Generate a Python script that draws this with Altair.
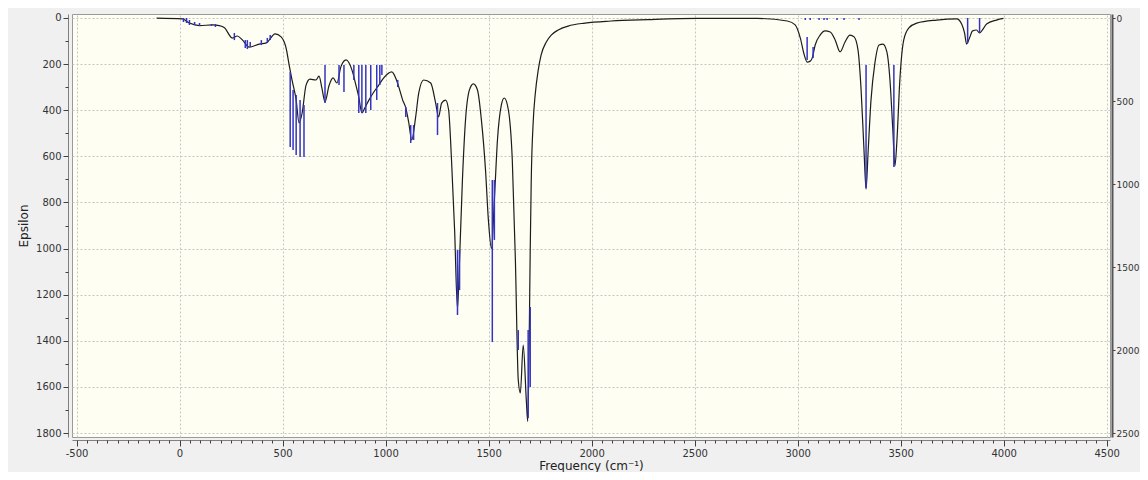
import altair as alt
import pandas as pd

# ---- spectrum curve (Epsilon vs frequency) ----
curve_freq = [-111, 14, 48, 97, 160, 193, 218, 256, 280, 305, 338, 387, 421, 464, 493, 517,
              532, 546, 566, 580, 595, 614, 633, 662, 677, 691, 706, 725, 745, 764, 783, 808,
              837, 856, 870, 885, 899, 919, 943, 967, 991, 1030, 1049, 1064, 1083, 1098, 1112, 1127,
              1146, 1161, 1185, 1219, 1243, 1257, 1272, 1291, 1306, 1320, 1335, 1349, 1359, 1373, 1388, 1407,
              1426, 1446, 1465, 1485, 1499, 1514, 1528, 1543, 1562, 1576, 1596, 1615, 1630, 1644, 1654, 1668,
              1683, 1690, 1697, 1702, 1707, 1717, 1726, 1741, 1755, 1780, 1804, 1838, 1886, 1968, 2094, 2273,
              2515, 2805, 2950, 2988, 3013, 3032, 3046, 3061, 3071, 3085, 3109, 3133, 3158, 3182, 3206, 3230,
              3254, 3274, 3293, 3308, 3322, 3332, 3342, 3356, 3375, 3395, 3414, 3433, 3448, 3462, 3472, 3482,
              3496, 3515, 3540, 3578, 3675, 3772, 3796, 3810, 3820, 3834, 3849, 3868, 3883, 3897, 3917, 3965, 3999]
curve_eps = [1, 4, 22, 33, 30, 33, 42, 87, 78, 95, 126, 113, 108, 69, 82, 130,
             204, 269, 356, 455, 412, 291, 265, 269, 252, 304, 364, 295, 260, 282, 212, 182,
             226, 291, 343, 412, 390, 356, 321, 291, 260, 234, 260, 299, 356, 390, 451, 529,
             429, 325, 269, 282, 369, 429, 369, 356, 399, 616, 919, 1260, 1049, 702, 442, 312,
             286, 312, 442, 659, 876, 1000, 789, 529, 377, 347, 399, 616, 1049, 1570, 1626, 1418,
             1657, 1750, 1396, 1006, 702, 442, 334, 225, 160, 104, 74, 52, 35, 22, 13, 7,
             2, 2, 13, 30, 87, 160, 191, 187, 173, 117, 74, 56, 61, 95, 147, 104,
             74, 82, 139, 312, 572, 742, 580, 356, 195, 117, 113, 147, 269, 486, 642, 529,
             269, 95, 43, 22, 9, 4, 26, 65, 113, 87, 56, 52, 65, 52, 26, 9, 2]

# ---- stick spectrum (intensity, right axis): visible segment top/bottom ----
stick_freq = [19, 34, 48, 73, 97, 155, 174, 266, 319, 329, 343, 397, 426, 440,
              537, 551, 566, 585, 604,
              706, 774, 798, 846, 870, 885, 904, 928, 957, 972, 982,
              1059, 1098, 1122, 1136, 1252,
              1349, 1359, 1518, 1528, 1644, 1692, 1702,
              3037, 3061, 3104, 3128, 3143, 3191, 3225, 3298,
              3046, 3075, 3332, 3467, 3825, 3883]
stick_top = [0, 0, 12, 24, 30, 36, 36, 90, 133, 133, 145, 133, 120, 102,
             325, 434, 464, 494, 524,
             283, 283, 283, 283, 283, 283, 283, 283, 283, 283, 283,
             373, 536, 645, 645, 512,
             1398, 1398, 976, 976, 1880, 1880, 1741,
             0, 0, 0, 0, 0, 0, 0, 0,
             114, 175, 283, 283, 0, 0]
stick_bot = [24, 30, 42, 42, 48, 48, 54, 133, 181, 187, 175, 163, 151, 133,
             777, 795, 825, 837, 837,
             512, 404, 446, 374, 572, 572, 572, 554, 494, 404, 343,
             416, 596, 753, 735, 705,
             1789, 1639, 1952, 1337, 2000, 2410, 2223,
             12, 12, 12, 12, 12, 12, 12, 12,
             253, 241, 1024, 898, 151, 90]

x_ticks = list(range(-500, 4501, 500))
x_minor = list(range(-500, 4501, 50))
eps_ticks = list(range(0, 1801, 200))
eps_minor = list(range(0, 1801, 100))
int_ticks = list(range(0, 2501, 500))

curve_df = pd.DataFrame({"freq": curve_freq, "eps": curve_eps})
stick_df = pd.DataFrame({"freq": stick_freq, "top": stick_top, "bot": stick_bot})

FONT = "DejaVu Sans"
LBL = "'' + datum.value"

x_scale = alt.Scale(domain=[-522, 4516], nice=False, zero=False)
eps_scale = alt.Scale(domain=[-17.3, 1817], nice=False, zero=False, reverse=True)
int_scale = alt.Scale(domain=[-24.1, 2524], nice=False, zero=False, reverse=True)

curve = alt.Chart(curve_df).mark_line(
    color="#1c1c1c", strokeWidth=1.2, interpolate="monotone"
).encode(
    x=alt.X("freq:Q", scale=x_scale,
            axis=alt.Axis(orient="bottom", values=x_ticks, title="Frequency (cm⁻¹)", grid=True,
                          gridDash=[2, 2], gridColor="#c6c6c6", tickSize=6, offset=3,
                          labelExpr=LBL, labelPadding=2, titlePadding=2,
                          domainColor="#808080", tickColor="#404040")),
    y=alt.Y("eps:Q", scale=eps_scale,
            axis=alt.Axis(orient="left", values=eps_ticks, title="Epsilon", grid=True,
                          gridDash=[2, 2], gridColor="#c6c6c6", tickSize=5, offset=4,
                          labelExpr=LBL, labelPadding=2, titlePadding=5,
                          domainColor="#808080", tickColor="#404040")),
)

minor = alt.Chart(curve_df).mark_line(opacity=0).encode(
    x=alt.X("freq:Q", scale=x_scale, axis=None),
    y=alt.Y("eps:Q", scale=eps_scale,
            axis=alt.Axis(orient="left", values=eps_minor, labels=False, title="",
                          tickSize=3, domain=False, grid=False, offset=4, tickColor="#404040")),
)

sticks = alt.Chart(stick_df).mark_rule(color="#3434c4", strokeWidth=1.5).encode(
    x=alt.X("freq:Q", scale=x_scale,
            axis=alt.Axis(orient="bottom", values=x_minor, labels=False, title="", tickSize=3,
                          domain=False, grid=False, offset=3, tickColor="#404040")),
    y=alt.Y("top:Q", scale=int_scale,
            axis=alt.Axis(orient="right", values=int_ticks, title="", tickSize=3, offset=2,
                          grid=False, labelExpr=LBL, labelPadding=1, labelFontSize=9,
                          domainColor="#555555", domainWidth=2, tickColor="#404040")),
    y2="bot:Q",
)

chart = alt.layer(curve, minor, sticks).resolve_scale(
    y="independent"
).resolve_axis(
    x="independent", y="independent"
).properties(
    width=1038, height=423,
    autosize=alt.AutoSizeParams(type="none"),
    padding={"left": 64, "top": 6, "right": 30, "bottom": 35},
    background="#f0f0f0",
).configure_view(
    fill="#fefef3", stroke="#9a9a9a", strokeWidth=1
).configure_axis(
    labelFont=FONT, labelFontSize=10, labelColor="#333333",
    titleFont=FONT, titleFontSize=12, titleFontWeight="normal", titleColor="#222222",
)

chart.save("out.html", embed_options={"renderer": "svg", "actions": False})
